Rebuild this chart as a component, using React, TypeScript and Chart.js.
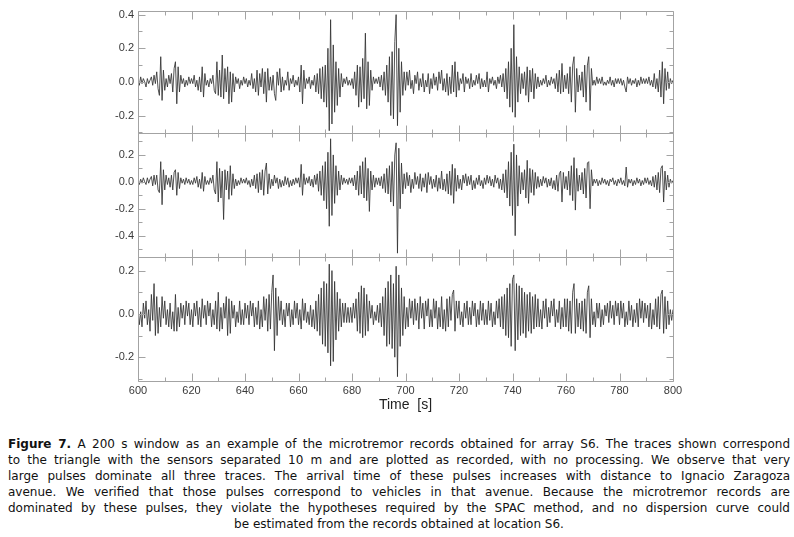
import React, { useEffect, useRef } from 'react';
import { Chart, registerables } from 'chart.js';

Chart.register(...registerables);

// ---- data (trace amplitudes in hundredths, one sample every 0.5 s from 600 s) ----
const START_TIME = 600;
const SAMPLE_STEP = 0.5;

const TOP_TRACE = [
  1,-2,3,-1,2,0,-3,2,-1,1,3,-2,4,-1,6,-4,-8,15,-11,7,
  -5,2,-3,4,-1,5,-6,8,12,-13,9,-6,4,-1,2,-3,1,-2,3,-1,
  2,-1,4,-3,1,-5,3,-6,9,-9,5,-2,1,-3,2,-1,4,-5,-7,12,
  -8,7,-9,16,-10,8,-6,9,-13,6,-12,5,-6,3,-1,2,-4,1,-2,3,
  -1,2,-3,1,-2,5,-4,2,-6,7,-8,5,-3,8,-7,6,-12,8,-5,3,
  -5,4,-7,-11,6,-2,8,-6,3,-5,1,-2,6,-5,2,-1,4,-3,1,-2,
  3,-6,10,-13,7,-4,2,-1,3,-4,1,-2,4,-6,5,-7,8,-10,9,-12,
  10,-15,20,-29,37,-25,22,-18,12,-14,8,-9,5,-3,2,-1,3,-2,1,-2,
  2,-4,6,-8,10,-15,9,-12,14,-10,29,-16,12,-14,7,-5,3,-1,2,-1,
  3,-3,4,-5,6,-8,10,-12,15,-20,18,-22,24,40,-26,20,-18,12,-8,6,
  -5,6,-2,7,-4,1,-7,4,-1,6,-5,2,-3,5,-6,1,-3,5,-7,2,
  -4,5,-2,3,-5,6,-1,7,-5,2,-6,5,-8,3,-7,10,-6,12,-9,6,
  -5,2,-1,5,-6,3,-1,2,-4,5,-3,1,-2,4,-1,5,-4,2,-3,1,
  -3,6,-6,2,-1,3,-2,1,-4,3,-1,4,-3,5,-6,8,-10,12,-15,20,
  -18,34,-21,15,-12,9,-7,5,-4,6,-8,9,-12,7,-6,8,-10,5,-4,3,
  -3,1,-2,2,-1,4,-3,1,-2,3,-1,2,-4,5,-6,7,-7,11,-6,4,
  -4,5,-7,9,-12,10,15,-18,8,-6,4,-5,6,-9,10,-12,10,15,-17,8,
  -2,1,-2,3,-1,2,-1,3,-2,0,-2,1,-1,3,-2,1,-3,2,-1,2,
  -1,2,-2,1,-3,-6,3,-1,2,-2,1,-1,2,-3,1,-2,3,-1,2,-1,
  2,-1,3,-2,1,-3,5,-4,2,-6,7,-9,12,-13,8,-5,6,-4,2,-1,
  1,
];

const MID_TRACE = [
  1,-2,2,-1,3,0,-2,3,-1,2,4,-3,5,-2,5,-6,-8,15,-17,9,
  -6,5,-2,3,-4,5,-6,7,9,-10,7,-5,3,-1,2,-2,3,-1,2,-2,
  1,-2,3,-1,4,-4,2,-5,7,-7,4,-2,1,-2,3,-1,5,-6,-9,15,
  -15,10,-12,8,-28,9,-6,8,-13,12,-10,6,-5,2,-3,1,-2,3,-1,2,
  -1,3,-2,1,-4,2,-3,5,-5,6,-8,7,-6,9,-10,8,14,-9,6,-5,
  2,-3,5,-1,3,-5,2,-4,1,-3,4,-2,3,-4,1,-3,2,-2,3,-1,
  3,-4,13,-10,6,-2,3,-1,4,-3,2,-4,5,-2,6,-7,8,-10,12,-14,
  15,-20,22,-33,32,-25,20,-16,12,-10,8,-6,5,-2,3,-1,2,-2,3,-1,
  3,-3,5,-6,8,-10,12,-9,15,-12,18,-14,10,-22,8,-6,5,-4,3,-2,
  3,-3,4,-5,6,-8,10,-9,12,-15,15,-18,20,29,-53,25,-20,14,-9,6,
  -5,7,-3,5,-8,2,-5,7,-2,4,-5,6,-7,3,-4,6,-8,7,-2,4,
  -5,2,-4,5,-7,3,-5,8,-6,2,-7,6,-9,8,-10,13,-16,10,-7,5,
  -5,2,-6,5,-1,6,-3,4,-2,5,-6,1,-5,3,-2,5,-3,1,-5,3,
  -2,5,-1,4,-3,2,-4,5,-1,3,-5,2,-6,6,-8,9,-12,15,-18,22,
  -25,28,-40,20,-18,12,-9,7,-6,9,-12,16,-16,10,-8,9,-10,7,-5,4,
  -4,2,-3,4,-1,3,-4,2,-3,3,-5,1,-6,5,-7,6,8,-15,7,-5,
  4,-6,8,-10,12,-14,18,-21,10,-7,5,-6,7,-9,10,-12,14,15,-20,9,
  -3,2,-1,2,-3,1,-2,3,-1,2,-2,1,-3,2,0,3,-2,1,-3,2,
  -1,3,-2,1,-3,11,-4,2,-1,2,-3,1,-2,3,-1,2,-3,1,-2,3,
  -1,3,-2,1,-3,4,-4,5,-6,7,-8,10,12,-15,8,-6,5,-4,2,-1,
  1,
];

const BOT_TRACE = [
  3,-5,1,-6,5,-2,6,-5,2,-8,9,-3,14,-10,8,-9,3,-6,8,-2,
  6,-5,2,-6,5,-7,1,-8,9,-8,3,-6,5,-2,4,-5,6,-1,5,-5,
  2,-6,5,-1,6,-5,3,-6,7,-2,4,-5,6,-1,5,-6,2,-5,6,-7,
  10,-8,3,-7,5,-2,8,-10,7,-9,6,-2,4,-6,1,-4,6,-5,2,-5,
  5,-2,4,-5,6,-1,5,-6,3,-5,6,-7,2,-6,8,-3,7,-8,9,-7,
  10,18,-17,12,-10,8,-3,6,-5,2,-6,5,-1,5,-6,2,-5,6,-2,5,
  -5,2,-7,7,-3,5,-4,1,-5,4,-6,2,-7,6,-8,9,-10,12,-14,15,
  -15,14,-18,23,-24,20,-22,15,-12,10,-8,7,-6,5,-4,5,-4,3,-4,3,
  -4,5,-2,7,-8,10,-9,13,-11,12,-10,9,-8,6,-2,4,-5,1,-3,4,
  -4,5,-6,8,-10,12,-15,15,-14,18,-16,14,-20,22,-29,18,-15,12,-10,8,
  -7,3,-6,7,-2,6,-5,7,-3,5,-7,8,-2,5,-7,6,-1,7,-6,2,
  -6,7,-2,6,-7,3,-6,8,-7,2,-8,7,-6,8,-3,9,11,-8,6,-2,
  6,-5,1,-6,5,-2,6,-5,3,-5,6,-1,5,-6,2,-5,6,-3,5,-5,
  2,-5,6,-3,5,-6,1,-5,6,-2,7,-6,8,-7,9,-10,12,-11,14,-15,
  16,18,-17,14,-12,13,-10,12,-9,10,-11,9,-8,10,-9,8,-7,9,-6,7,
  -6,2,-7,6,-2,7,-6,3,-4,6,-1,7,-6,2,-4,6,-7,3,-6,7,
  -6,7,-8,6,-9,10,14,-9,7,-6,5,-7,6,-8,7,-9,10,13,-11,7,
  -5,1,-6,5,-2,5,-6,2,-5,4,-1,5,-4,6,-2,4,-5,6,-1,5,
  -5,6,-2,5,-6,1,-5,6,-3,4,-6,2,-4,5,-6,7,-2,6,-4,5,
  -2,4,-6,5,-7,2,-5,7,-6,8,-7,9,11,-9,8,-7,6,-5,2,-3,
  2,
];

// axis ranges and tick values
const X_MIN = 600;
const X_MAX = 800;
const X_LABEL_STEP = 20;
const X_TICKS_MAJOR = [600, 620, 640, 660, 680, 700, 720, 740, 760, 780, 800];
const X_TICKS_MINOR = [610, 630, 650, 670, 690, 710, 730, 750, 770, 790];

const TOP_RANGE = [-0.306, 0.424];
const MID_RANGE = [-0.56, 0.36];
const BOT_RANGE = [-0.31, 0.262];

const TOP_TICKS = [0.4, 0.2, 0.0, -0.2];
const TOP_MINOR = [0.3, 0.1, -0.1, -0.3];
const MID_TICKS = [0.2, 0.0, -0.2, -0.4];
const MID_MINOR = [0.3, 0.1, -0.1, -0.3, -0.5];
const BOT_TICKS = [0.2, 0.0, -0.2];
const BOT_MINOR = [0.1, -0.1, -0.3];

const X_TITLE = 'Time  [s]';

const CAPTION_LINES = [
  'A 200 s window as an example of the microtremor records obtained for array S6. The traces shown correspond',
  'to the triangle with the sensors separated 10 m and are plotted as recorded, with no processing. We observe that very',
  'large pulses dominate all three traces. The arrival time of these pulses increases with distance to Ignacio Zaragoza',
  'avenue. We verified that those pulses correspond to vehicles in that avenue. Because the microtremor records are',
  'dominated by these pulses, they violate the hypotheses required by the SPAC method, and no dispersion curve could',
  'be estimated from the records obtained at location S6.',
];
const CAPTION_LABEL = 'Figure 7.';

// ---- styling ----
const AXIS_COLOR = '#a3a3a3';
const LABEL_COLOR = '#3a3a3a';
const TRACE_COLOR = '#333333';
const FONT_FAMILY = '"Liberation Sans", Arial, Helvetica, sans-serif';

const PANELS = [
  { id: 'yTop', range: TOP_RANGE, ticks: TOP_TICKS, minor: TOP_MINOR, data: TOP_TRACE, weight: 124 },
  { id: 'yMid', range: MID_RANGE, ticks: MID_TICKS, minor: MID_MINOR, data: MID_TRACE, weight: 125 },
  { id: 'yBot', range: BOT_RANGE, ticks: BOT_TICKS, minor: BOT_MINOR, data: BOT_TRACE, weight: 125 },
];

const toPoints = (vals: number[]) =>
  vals.map((v, i) => ({ x: START_TIME + i * SAMPLE_STEP, y: v / 100 }));

const panelFrame = {
  id: 'panelFrame',
  afterDraw(chart: any) {
    const ctx = chart.ctx;
    const { left, right } = chart.chartArea;
    const xs = chart.scales.x;
    ctx.save();
    ctx.strokeStyle = AXIS_COLOR;
    ctx.lineWidth = 1;
    PANELS.forEach((p) => {
      const ys = chart.scales[p.id];
      const top = Math.round(ys.top) + 0.5;
      const bottom = Math.round(ys.bottom) + 0.5;
      const l = Math.round(left) + 0.5;
      const r = Math.round(right) + 0.5;
      ctx.beginPath();
      ctx.rect(l, top, r - l, bottom - top);
      ctx.stroke();
      ctx.beginPath();
      const yTick = (v: number, len: number) => {
        const y = Math.round(ys.getPixelForValue(v)) + 0.5;
        ctx.moveTo(l, y); ctx.lineTo(l + len, y);
        ctx.moveTo(r, y); ctx.lineTo(r - len, y);
      };
      p.ticks.forEach((v) => yTick(v, 7));
      p.minor.forEach((v) => yTick(v, 4));
      const xTick = (v: number, len: number) => {
        const x = Math.round(xs.getPixelForValue(v)) + 0.5;
        ctx.moveTo(x, top); ctx.lineTo(x, top + len);
        ctx.moveTo(x, bottom); ctx.lineTo(x, bottom - len);
      };
      X_TICKS_MAJOR.forEach((v) => xTick(v, 8));
      X_TICKS_MINOR.forEach((v) => xTick(v, 4));
      ctx.stroke();
    });
    ctx.restore();
  },
};

function ChartView() {
  const ref = useRef<HTMLCanvasElement | null>(null);
  useEffect(() => {
    if (!ref.current) return;
    const yScales: any = {};
    // stacked axes are laid out bottom-first, so add them in reverse order
    [...PANELS].reverse().forEach((p) => {
      yScales[p.id] = {
        type: 'linear',
        position: 'left',
        stack: 'traces',
        stackWeight: p.weight,
        min: p.range[0],
        max: p.range[1],
        grid: { display: false, drawTicks: false },
        border: { display: false },
        afterBuildTicks: (s: any) => {
          s.ticks = p.ticks.map((v) => ({ value: v }));
        },
        afterFit: (s: any) => {
          s.width = 50;
        },
        ticks: {
          padding: 4,
          color: LABEL_COLOR,
          font: { family: FONT_FAMILY, size: 11 },
          callback: (v: any) => Number(v).toFixed(1),
        },
      };
    });
    const chart = new Chart(ref.current, {
      type: 'line',
      data: {
        datasets: PANELS.map((p) => ({
          data: toPoints(p.data),
          yAxisID: p.id,
          borderColor: TRACE_COLOR,
          borderWidth: 0.85,
          pointRadius: 0,
          tension: 0,
          fill: false,
        })),
      },
      options: {
        responsive: false,
        animation: false,
        events: [],
        layout: { padding: { left: 88, right: 121, top: 6, bottom: 0 } },
        plugins: { legend: { display: false }, tooltip: { enabled: false } },
        scales: {
          x: {
            type: 'linear',
            position: 'bottom',
            min: X_MIN,
            max: X_MAX,
            grid: { display: false, drawTicks: false },
            border: { display: false },
            afterFit: (s: any) => {
              s.height = 36;
            },
            ticks: {
              stepSize: X_LABEL_STEP,
              padding: 3,
              maxRotation: 0,
              autoSkip: false,
              color: LABEL_COLOR,
              font: { family: FONT_FAMILY, size: 11 },
            },
            title: {
              display: true,
              text: X_TITLE,
              color: '#222',
              font: { family: FONT_FAMILY, size: 14 },
              padding: { top: 2, bottom: 3 },
            },
          },
          ...yScales,
        },
      } as any,
      plugins: [panelFrame],
    });
    return () => chart.destroy();
  }, []);
  return <canvas ref={ref} width={794} height={417} style={{ display: 'block' }} />;
}

export default function App() {
  const lineStyle: React.CSSProperties = {
    height: 16,
    lineHeight: '16px',
    whiteSpace: 'nowrap',
    textAlign: 'justify',
    textAlignLast: 'justify' as any,
  };
  return (
    <div style={{ position: 'absolute', left: 0, top: 0, width: 794, height: 537, background: '#fff' }}>
      <ChartView />
      <div
        style={{
          position: 'absolute',
          left: 8,
          top: 436,
          width: 782,
          fontFamily: '"DejaVu Sans", Verdana, sans-serif',
          fontSize: 12,
          color: '#111',
        }}
      >
        {CAPTION_LINES.map((line, i) => (
          <div
            key={i}
            style={i === CAPTION_LINES.length - 1 ? { ...lineStyle, textAlignLast: 'center' as any, textAlign: 'center' } : lineStyle}
          >
            {i === 0 ? (
              <>
                <b>{CAPTION_LABEL}</b> {line}
              </>
            ) : (
              line
            )}
          </div>
        ))}
      </div>
    </div>
  );
}
